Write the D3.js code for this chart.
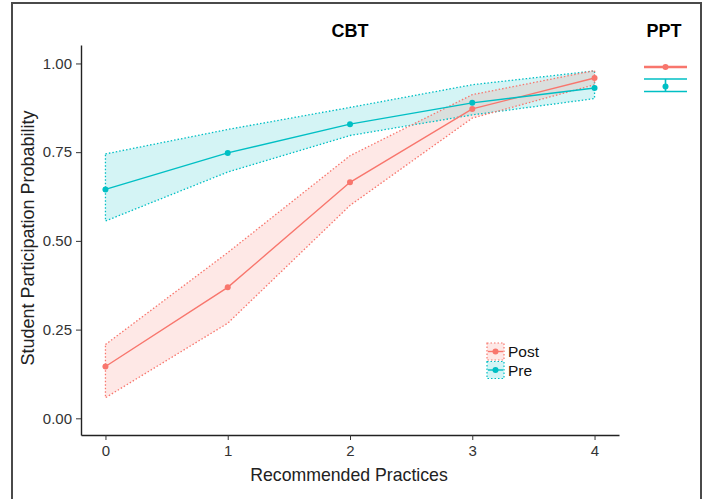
<!DOCTYPE html>
<html>
<head>
<meta charset="utf-8">
<script src="https://cdn.jsdelivr.net/npm/d3@7"></script>
<style>
  body { margin: 0; background: #fff; }
  text { font-family: "Liberation Sans", Arial, sans-serif; }
</style>
</head>
<body>
<div id="chart"></div>
<script>
const w = 707;
const h = 499;

// CBT panel
const practices = [0, 1, 2, 3, 4];
const postMean = [0.146, 0.369, 0.665, 0.872, 0.959];
const postLow = [0.058, 0.268, 0.600, 0.846, 0.940];
const postHigh = [0.208, 0.467, 0.740, 0.912, 0.980];
const preMean = [0.645, 0.748, 0.829, 0.889, 0.931];
const preLow = [0.556, 0.694, 0.797, 0.855, 0.901];
const preHigh = [0.745, 0.814, 0.876, 0.940, 0.979];

// PPT panel
const pptGroups = ["Post", "Pre"];
const pptMean = [0.990, 0.935];
const pptLow = [0.989, 0.921];
const pptHigh = [0.991, 0.956];

const yTicks = [0, 0.25, 0.5, 0.75, 1];
const colors = { Post: "#F8766D", Pre: "#00BFC4" };

const svg = d3.select("#chart").append("svg")
  .attr("width", w).attr("height", h);

// outer frame
svg.append("rect")
  .attr("x", 12).attr("y", 3)
  .attr("width", 689).attr("height", 520)
  .attr("fill", "none").attr("stroke", "#4a4a4a").attr("stroke-width", 2);

const x = d3.scaleLinear().domain([-0.2, 4.2]).range([81, 619]);
const y = d3.scaleLinear().domain([-0.047, 1.052]).range([435, 45]);

const series = [
  { name: "Post", mean: postMean, low: postLow, high: postHigh },
  { name: "Pre", mean: preMean, low: preLow, high: preHigh }
];

const area = d3.area()
  .x((d) => x(d.x)).y0((d) => y(d.lo)).y1((d) => y(d.hi));
const line = d3.line().x((d) => x(d.x)).y((d) => y(d.v));

const g = svg.append("g");

// ribbons first, then lines/points
series.slice().reverse().forEach((s) => {
  const pts = practices.map((p, i) => ({ x: p, lo: s.low[i], hi: s.high[i] }));
  g.append("path").datum(pts)
    .attr("d", area)
    .attr("fill", colors[s.name]).attr("fill-opacity", 0.17)
    .attr("stroke", "none");
});
series.slice().reverse().forEach((s) => {
  const pts = practices.map((p, i) => ({ x: p, lo: s.low[i], hi: s.high[i] }));
  const outline = pts.map((d) => ({ x: d.x, v: d.hi }))
    .concat(pts.slice().reverse().map((d) => ({ x: d.x, v: d.lo })));
  outline.push(outline[0]);
  g.append("path").datum(outline)
    .attr("d", line)
    .attr("fill", "none")
    .attr("stroke", colors[s.name]).attr("stroke-width", 1.3)
    .attr("stroke-dasharray", "1.5,2");
});
series.forEach((s) => {
  const pts = practices.map((p, i) => ({ x: p, v: s.mean[i] }));
  g.append("path").datum(pts)
    .attr("d", line)
    .attr("fill", "none")
    .attr("stroke", colors[s.name]).attr("stroke-width", 1.4);
  g.selectAll(null).data(pts).enter().append("circle")
    .attr("cx", (d) => x(d.x)).attr("cy", (d) => y(d.v))
    .attr("r", 3).attr("fill", colors[s.name]);
});

// axes
const yAxis = svg.append("g").attr("transform", "translate(81,0)")
  .call(d3.axisLeft(y).tickValues(yTicks).tickFormat(d3.format(".2f")).tickSize(5).tickSizeOuter(0));
const xAxis = svg.append("g").attr("transform", "translate(0,435)")
  .call(d3.axisBottom(x).tickValues(practices).tickFormat(d3.format("d")).tickSize(5).tickSizeOuter(0));
[yAxis, xAxis].forEach((a) => {
  a.select(".domain").attr("stroke", "#222").attr("stroke-width", 1.4);
  a.selectAll(".tick line").attr("stroke", "#333");
  a.selectAll(".tick text").attr("fill", "#333").style("font-size", "15px");
});
yAxis.selectAll(".tick text").attr("x", -9);
xAxis.selectAll(".tick text").attr("y", 10);

svg.append("text")
  .attr("x", 349).attr("y", 481)
  .attr("text-anchor", "middle")
  .style("font-size", "17.7px").attr("fill", "#222")
  .text("Recommended Practices");

svg.append("text")
  .attr("transform", "translate(34,238) rotate(-90)")
  .attr("text-anchor", "middle")
  .style("font-size", "18px").attr("fill", "#222")
  .text("Student Participation Probability");

svg.append("text")
  .attr("x", 350).attr("y", 37)
  .attr("text-anchor", "middle")
  .style("font-size", "18px").style("font-weight", "bold")
  .text("CBT");
svg.append("text")
  .attr("x", 664).attr("y", 37)
  .attr("text-anchor", "middle")
  .style("font-size", "18px").style("font-weight", "bold")
  .text("PPT");

// PPT panel: error bars
const px = d3.scalePoint().domain(["PPT"]).range([644, 687]).padding(0.5);
const cx = px("PPT");
pptGroups.forEach((grp, i) => {
  const c = colors[grp];
  const eg = svg.append("g");
  [pptLow[i], pptHigh[i]].forEach((v) => {
    eg.append("line")
      .attr("x1", 644).attr("x2", 687)
      .attr("y1", y(v)).attr("y2", y(v))
      .attr("stroke", c).attr("stroke-width", 1.6);
  });
  eg.append("line")
    .attr("x1", cx).attr("x2", cx)
    .attr("y1", y(pptLow[i])).attr("y2", y(pptHigh[i]))
    .attr("stroke", c).attr("stroke-width", 1.6);
  eg.append("circle")
    .attr("cx", cx).attr("cy", y(pptMean[i]))
    .attr("r", 3).attr("fill", c);
});

// legend
const legend = svg.append("g").attr("transform", "translate(487,343)");
series.forEach((s, i) => {
  const ly = i * 18.5;
  const c = colors[s.name];
  legend.append("rect")
    .attr("x", 0).attr("y", ly).attr("width", 17).attr("height", 17)
    .attr("fill", c).attr("fill-opacity", 0.17)
    .attr("stroke", c).attr("stroke-width", 1.2).attr("stroke-dasharray", "1.5,2");
  legend.append("line")
    .attr("x1", 1).attr("x2", 16).attr("y1", ly + 8.5).attr("y2", ly + 8.5)
    .attr("stroke", c).attr("stroke-width", 1.4);
  legend.append("circle")
    .attr("cx", 8.5).attr("cy", ly + 8.5).attr("r", 3).attr("fill", c);
  legend.append("text")
    .attr("x", 21).attr("y", ly + 14)
    .style("font-size", "15.5px").attr("fill", "#111")
    .text(s.name);
});
</script>
</body>
</html>
